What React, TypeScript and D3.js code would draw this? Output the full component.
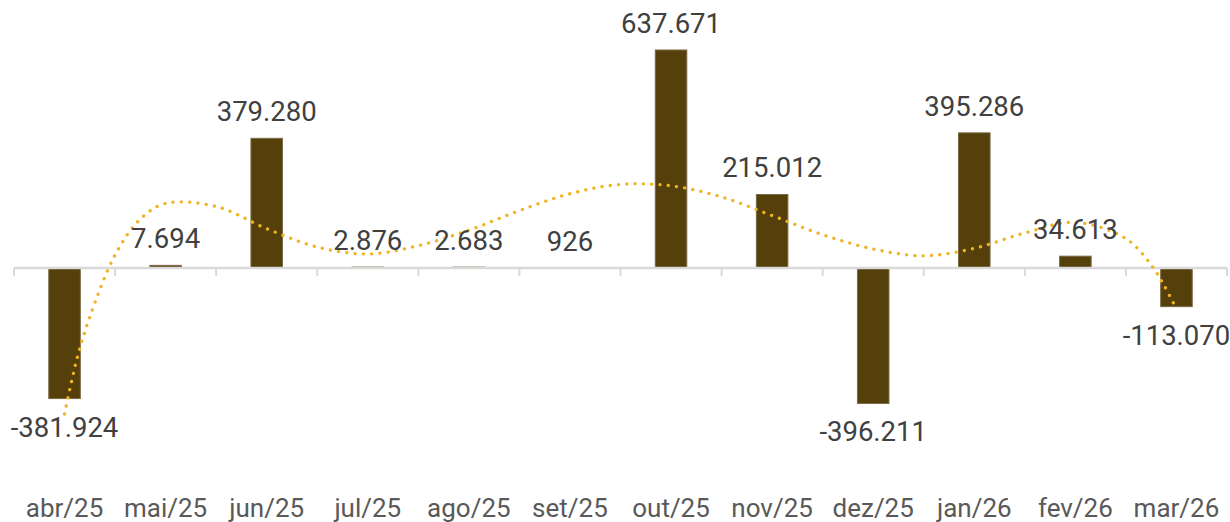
import React from 'react';
import * as d3 from 'd3';

const categories = ['abr/25', 'mai/25', 'jun/25', 'jul/25', 'ago/25', 'set/25', 'out/25', 'nov/25', 'dez/25', 'jan/26', 'fev/26', 'mar/26'];
const values = [-381924, 7694, 379280, 2876, 2683, 926, 637671, 215012, -396211, 395286, 34613, -113070];

// Trendline: position in category index units, value
const trendIndex = [0, 0.125, 0.25, 0.5, 0.75, 1, 1.5, 2, 2.5, 3, 3.5, 4, 4.5, 5, 5.5, 6, 6.5, 7, 7.5, 8, 8.5, 9, 9.5, 10, 10.5, 10.75, 10.875, 11];
const trendValues = [-427000, -263000, -143300, 38000, 143300, 188700, 180000, 115000, 61400, 41000, 65500, 110600, 167900, 217300, 244500, 240400, 207700, 153300, 97400, 55600, 35700, 57600, 102400, 133700, 85700, 8800, -49700, -120000];

const W = 1230;
const H = 522;
const left = 14;
const right = 1227;
const zeroY = 268;
const maxY = 50;

const locale = d3.formatLocale({ decimal: ',', thousands: '.', grouping: [3], currency: ['R$', ''], minus: '-' });
const fmt = locale.format(',d');

export default function App() {
  const x = d3.scaleBand<string>().domain(categories).range([left, right]).padding(0);
  const step = x.step();
  const y = d3.scaleLinear().domain([0, 637671]).range([zeroY, maxY]);
  const barW = step * 0.312;
  const cx = (i: number) => left + (i + 0.5) * step;

  const line = d3
    .line<number>()
    .x((_, i) => cx(trendIndex[i]))
    .y((d) => y(d))
    .curve(d3.curveCatmullRom.alpha(0.5));

  const ticks = d3.range(categories.length + 1).map((i) => left + i * step);
  const font = 'Roboto, "Noto Sans", sans-serif';

  return (
    <svg width={W} height={H} style={{ position: 'absolute', left: 0, top: 0, background: '#fff' }}>
      {values.map((v, i) => {
        const y0 = y(0);
        const y1 = y(v);
        const top = Math.min(y0, y1);
        const h = Math.abs(y1 - y0);
        return (
          <rect
            key={categories[i]}
            x={(x(categories[i]) as number) + (step - barW) / 2}
            y={top}
            width={barW}
            height={h}
            fill="#553F0A"
            stroke="#7A6A45"
            strokeWidth={1}
          />
        );
      })}
      <line x1={left} x2={right} y1={zeroY} y2={zeroY} stroke="#D9D9D9" strokeWidth={2.5} />
      {ticks.map((t, i) => (
        <line key={i} x1={t} x2={t} y1={zeroY} y2={zeroY + 8} stroke="#D9D9D9" strokeWidth={2} />
      ))}
      <path
        d={line(trendValues) || ''}
        fill="none"
        stroke="#F0B323"
        strokeWidth={3.3}
        strokeLinecap="round"
        strokeDasharray="0.1 8.2"
      />
      {values.map((v, i) => {
        const ty = v >= 0 ? y(v) - 17 : y(v) + 38;
        return (
          <text
            key={'l' + i}
            x={cx(i)}
            y={ty}
            textAnchor="middle"
            fontFamily={font}
            fontSize={27.5}
            fill="#404040"
          >
            {fmt(v)}
          </text>
        );
      })}
      {categories.map((c, i) => (
        <text
          key={'c' + i}
          x={cx(i)}
          y={517}
          textAnchor="middle"
          fontFamily={font}
          fontSize={26}
          fill="#595959"
        >
          {c}
        </text>
      ))}
    </svg>
  );
}
